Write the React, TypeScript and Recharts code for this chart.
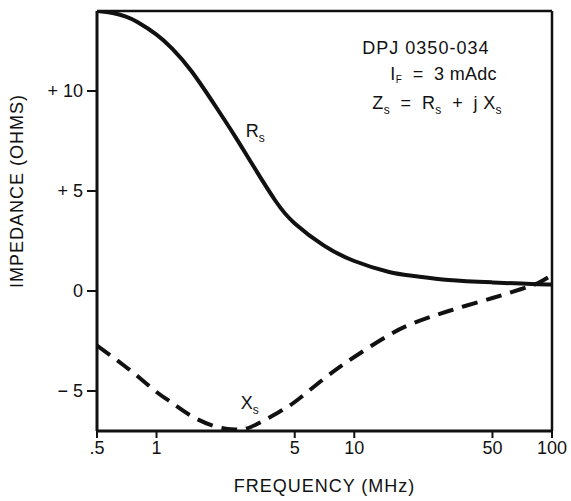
import { LineChart, Line, XAxis, YAxis, ReferenceLine, ReferenceDot } from 'recharts';

// frequency points (MHz)
const FREQS = [0.5, 0.6, 0.7, 0.8, 1, 1.2, 1.5, 2, 2.5, 3, 4, 5, 7, 10, 15, 20, 30, 50, 70, 85, 100];
// series resistance Rs (ohms)
const RS = [14.0, 13.9, 13.72, 13.45, 12.82, 12.12, 11.0, 9.2, 7.72, 6.45, 4.5, 3.38, 2.28, 1.5, 0.95, 0.75, 0.55, 0.43, 0.37, 0.34, 0.33];
// series reactance Xs (ohms)
const XS = [-2.73, -3.3, -3.8, -4.25, -5.05, -5.6, -6.25, -6.78, -6.92, -6.8, -6.15, -5.55, -4.4, -3.3, -2.2, -1.6, -1.0, -0.35, 0.1, 0.4, 0.8];

const X_TICKS = [0.5, 1, 5, 10, 50, 100];
const Y_TICKS = [-5, 0, 5, 10];
const Y_TICK_LABELS: Record<number, string> = { 10: '+ 10', 5: '+ 5', 0: '0', [-5]: '\u2212 5' };

const FONT = '"Liberation Sans", Arial, Helvetica, sans-serif';
const INK = '#111';
const NB = '\u00A0';

const data = FREQS.map((f, i) => ({ f, rs: RS[i], xs: XS[i] }));

function SubLabel({ viewBox, main, sub }: any) {
  if (!viewBox) return null;
  return (
    <text x={viewBox.x} y={viewBox.y} fill={INK} fontSize={18} fontFamily={FONT}>
      {main}
      <tspan dy={5} fontSize={12}>{sub}</tspan>
    </text>
  );
}

function InfoBlock({ viewBox }: any) {
  if (!viewBox) return null;
  const { x, y } = viewBox;
  return (
    <g fill={INK} fontFamily={FONT} fontSize={18}>
      <text x={x} y={y} letterSpacing={1}>DPJ 0350-034</text>
      <text x={x + 28} y={y + 26} letterSpacing={0.3}>
        I<tspan dy={3} fontSize={10}>F</tspan>
        <tspan dy={-3}>{`${NB} = ${NB}3 mAdc`}</tspan>
      </text>
      <text x={x + 10} y={y + 55} letterSpacing={0.3}>
        Z<tspan dy={5} fontSize={12}>s</tspan>
        <tspan dy={-5}>{`${NB} = ${NB}R`}</tspan>
        <tspan dy={5} fontSize={12}>s</tspan>
        <tspan dy={-5}>{`${NB} + ${NB}j X`}</tspan>
        <tspan dy={5} fontSize={12}>s</tspan>
      </text>
    </g>
  );
}

function YTitle({ viewBox }: any) {
  if (!viewBox) return null;
  const cx = viewBox.x + 23;
  const cy = viewBox.y + viewBox.height / 2 - 30;
  return (
    <text
      x={cx}
      y={cy}
      transform={`rotate(-90, ${cx}, ${cy})`}
      textAnchor="middle"
      fill={INK}
      fontSize={18}
      fontFamily={FONT}
      letterSpacing={1}
    >
      IMPEDANCE (OHMS)
    </text>
  );
}

export default function App() {
  return (
    <div style={{ position: 'absolute', left: 0, top: 0, background: '#fff' }}>
      <LineChart width={571} height={501} data={data} margin={{ top: 11, right: 19, bottom: 0, left: 0 }}>
        <XAxis
          dataKey="f"
          type="number"
          scale="log"
          domain={[0.5, 100]}
          ticks={X_TICKS}
          allowDataOverflow
          height={70}
          tickFormatter={(v: number) => (v === 0.5 ? '.5' : String(v))}
          tick={{ fill: INK, fontSize: 18, fontFamily: FONT }}
          tickSize={7}
          tickMargin={3}
          axisLine={{ stroke: INK, strokeWidth: 3 }}
          tickLine={{ stroke: INK, strokeWidth: 2 }}
          label={{
            value: 'FREQUENCY (MHz)',
            position: 'insideBottom',
            offset: 9,
            fill: INK,
            fontSize: 18,
            fontFamily: FONT,
            letterSpacing: 1,
          }}
        />
        <YAxis
          type="number"
          domain={[-7, 14]}
          ticks={Y_TICKS}
          allowDataOverflow
          width={97}
          tickFormatter={(v: number) => Y_TICK_LABELS[v] ?? String(v)}
          tick={{ fill: INK, fontSize: 18, fontFamily: FONT }}
          tickSize={10}
          tickMargin={4}
          axisLine={{ stroke: INK, strokeWidth: 3 }}
          tickLine={{ stroke: INK, strokeWidth: 2 }}
          label={<YTitle />}
        />
        <ReferenceLine y={14} stroke={INK} strokeWidth={2.5} />
        <ReferenceLine x={100} stroke={INK} strokeWidth={2.5} />
        <Line
          dataKey="rs"
          type="natural"
          stroke={INK}
          strokeWidth={4}
          dot={false}
          isAnimationActive={false}
        />
        <Line
          dataKey="xs"
          type="natural"
          stroke={INK}
          strokeWidth={4}
          strokeDasharray="16 9"
          dot={false}
          isAnimationActive={false}
        />
        <ReferenceDot x={2.83} y={7.7} r={0.1} fill="none" stroke="none" label={<SubLabel main="R" sub="s" />} />
        <ReferenceDot x={2.67} y={-5.9} r={0.1} fill="none" stroke="none" label={<SubLabel main="X" sub="s" />} />
        <ReferenceDot x={11} y={11.85} r={0.1} fill="none" stroke="none" label={<InfoBlock />} />
      </LineChart>
    </div>
  );
}
